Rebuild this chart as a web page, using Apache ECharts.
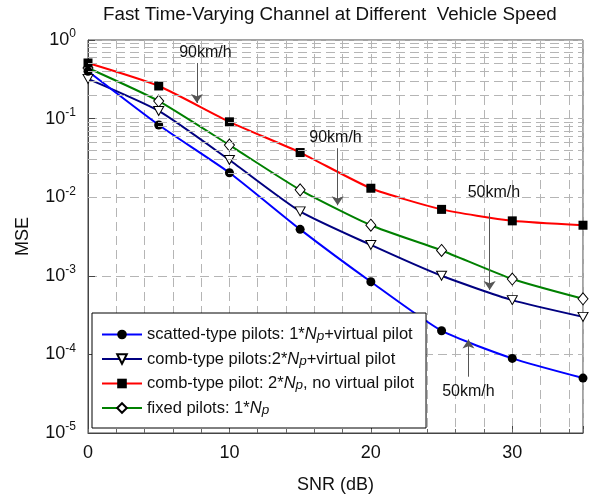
<!DOCTYPE html>
<html><head><meta charset="utf-8">
<script src="https://cdn.jsdelivr.net/npm/echarts@6/dist/echarts.min.js"></script>
<style>html,body{margin:0;padding:0;background:#fff}#c{width:597px;height:502px}</style>
</head><body><div id="c"></div>
<script>
// ---- data ----
const snr = [0, 5, 10, 15, 20, 25, 30, 35];
const scattedPilots = [0.40, 0.083, 0.0205, 0.0039, 0.00084, 0.0002, 0.000089, 0.00005];
const comb2NpVirtual = [0.32, 0.125, 0.0297, 0.0066, 0.00247, 0.001, 0.00049, 0.0003];
const comb2NpNoVirtual = [0.51, 0.26, 0.091, 0.037, 0.013, 0.007, 0.005, 0.0044];
const fixedPilots = [0.44, 0.167, 0.046, 0.0124, 0.0044, 0.0021, 0.00091, 0.00051];
const seriesNames = [
  'scatted-type pilots: 1*Np+virtual pilot',
  'comb-type pilots:2*Np+virtual pilot',
  'comb-type pilot: 2*Np, no virtual pilot',
  'fixed pilots: 1*Np'
];
const legendRich = {
  'scatted-type pilots: 1*Np+virtual pilot': ['scatted-type pilots: 1*', '+virtual pilot'],
  'comb-type pilots:2*Np+virtual pilot': ['comb-type pilots:2*', '+virtual pilot'],
  'comb-type pilot: 2*Np, no virtual pilot': ['comb-type pilot: 2*', ', no virtual pilot'],
  'fixed pilots: 1*Np': ['fixed pilots: 1*', '']
};
const annText = ['90km/h', '90km/h', '50km/h', '50km/h'];
const annTextAt = [[8.3, 0.70], [17.5, 0.058], [28.7, 0.0116], [26.9, 3.4e-5]];
const arrowFrom = [[7.7, 0.51], [17.65, 0.042], [28.4, 0.0063], [26.9, 5.2e-5]];
const arrowTo = [[7.7, 0.158], [17.65, 0.0079], [28.4, 0.00066], [26.9, 1.55e-4]];

// minor log grid positions (2..9 x 10^k)
const minorY = [];
for (let k = -5; k < 0; k++) for (let m = 2; m <= 9; m++) minorY.push(m * Math.pow(10, k));

const FONT = 'Liberation Sans, Arial, sans-serif';
const gridDash = { color: '#b5b5b5', type: [9, 5], width: 1 };

function pairs(ys) { return snr.map((x, i) => [x, ys[i]]); }

const chart = echarts.init(document.getElementById('c'), null, { renderer: 'canvas' });

const option = {
  animation: false,
  textStyle: { fontFamily: FONT },
  title: {
    text: 'Fast Time-Varying Channel at Different  Vehicle Speed',
    left: 103, top: 5, padding: 0,
    textStyle: { fontFamily: FONT, fontSize: 18.8, fontWeight: 'normal', color: '#111' }
  },
  grid: { left: 88, right: 14, top: 40, bottom: 69, show: true, borderColor: '#444', borderWidth: 1 },
  legend: {
    data: seriesNames,
    orient: 'vertical', left: 92, top: 313,
    backgroundColor: '#fff', borderColor: '#000', borderWidth: 1,
    padding: [13, 12, 11, 9],
    itemWidth: 40, itemHeight: 12, itemGap: 7,
    textStyle: {
      fontFamily: FONT, fontSize: 16.5, color: '#111',
      rich: {
        a: { fontFamily: FONT, fontSize: 16.5, color: '#111', lineHeight: 18 },
        n: { fontFamily: FONT, fontSize: 16.5, color: '#111', fontStyle: 'italic', lineHeight: 18 },
        s: { fontFamily: FONT, fontSize: 13.5, color: '#111', fontStyle: 'italic', verticalAlign: 'bottom', lineHeight: 13 }
      }
    },
    formatter: function (name) {
      const p = legendRich[name];
      return '{a|' + p[0] + '}{n|N}{s|p}' + (p[1] ? '{a|' + p[1] + '}' : '');
    }
  },
  xAxis: [{
    type: 'value', min: 0, max: 35, interval: 10,
    name: 'SNR (dB)', nameLocation: 'middle', nameGap: 43,
    nameTextStyle: { fontFamily: FONT, fontSize: 18, color: '#111' },
    axisLine: { lineStyle: { color: '#444' } },
    axisTick: { inside: true, length: 7, lineStyle: { color: '#444' } },
    axisLabel: { fontFamily: FONT, fontSize: 18, color: '#111', margin: 11,
      formatter: v => (v % 10 === 0 ? String(v) : '') },
    splitLine: { show: false }
  }, {
    type: 'value', min: 0, max: 35, interval: 2, position: 'bottom',
    axisLine: { show: false },
    axisTick: { inside: true, length: 4, lineStyle: { color: '#666' } },
    axisLabel: { show: false },
    splitLine: { show: true, lineStyle: gridDash }
  }],
  yAxis: {
    type: 'log', logBase: 10, min: 1e-5, max: 1,
    name: 'MSE', nameLocation: 'middle', nameGap: 56, nameRotate: 90,
    nameTextStyle: { fontFamily: FONT, fontSize: 18, color: '#111' },
    axisLine: { show: true, lineStyle: { color: '#444' } },
    axisTick: { inside: true, length: 7, lineStyle: { color: '#444' } },
    axisLabel: {
      margin: 12,
      formatter: v => '{b|10}{e|' + Math.round(Math.log10(v)) + '}',
      rich: {
        b: { fontFamily: FONT, fontSize: 18, color: '#111', lineHeight: 24 },
        e: { fontFamily: FONT, fontSize: 12, color: '#111', verticalAlign: 'top', lineHeight: 12 }
      }
    },
    splitLine: { show: true, lineStyle: gridDash }
  },
  series: [
    {
      name: 'grid', type: 'line', data: [], silent: true, z: 1,
      markLine: {
        silent: true, symbol: 'none', animation: false,
        label: { show: false },
        lineStyle: gridDash,
        data: minorY.map(v => ({ yAxis: v }))
      }
    },
    {
      name: 'annot', type: 'line', data: [], silent: true, z: 3,
      markLine: {
        silent: true, symbol: ['none', 'arrow'], symbolSize: 9, animation: false,
        label: { show: false },
        itemStyle: { color: '#555' },
        lineStyle: { color: '#555', type: 'solid', width: 1, opacity: 1 },
        data: arrowFrom.map((f, i) => [{ coord: f }, { coord: arrowTo[i] }])
      },
      markPoint: {
        silent: true, symbol: 'circle', symbolSize: 1, animation: false,
        itemStyle: { color: 'rgba(0,0,0,0)' },
        label: { show: true, position: 'inside', fontFamily: FONT, fontSize: 16, color: '#111',
          formatter: p => p.name },
        data: annTextAt.map((c, i) => ({ name: annText[i], coord: c }))
      }
    },
    {
      name: seriesNames[3], type: 'line', data: pairs(fixedPilots), z: 2,
      smooth: 0.2, symbol: 'diamond', symbolSize: [10, 12],
      lineStyle: { color: '#008000', width: 2 },
      itemStyle: { color: '#fff', borderColor: '#000', borderWidth: 1 }
    },
    {
      name: seriesNames[2], type: 'line', data: pairs(comb2NpNoVirtual), z: 2,
      smooth: 0.2, symbol: 'rect', symbolSize: 9,
      lineStyle: { color: '#ff0000', width: 2 },
      itemStyle: { color: '#000' }
    },
    {
      name: seriesNames[1], type: 'line', data: pairs(comb2NpVirtual), z: 2,
      smooth: 0.2, symbol: 'triangle', symbolRotate: 180, symbolSize: [10, 9],
      lineStyle: { color: '#000080', width: 2 },
      itemStyle: { color: '#fff', borderColor: '#000', borderWidth: 1 }
    },
    {
      name: seriesNames[0], type: 'line', data: pairs(scattedPilots), z: 2,
      smooth: 0.2, symbol: 'circle', symbolSize: 9,
      lineStyle: { color: '#0000ff', width: 2 },
      itemStyle: { color: '#000' }
    }
  ]
};
chart.setOption(option);
</script>
</body></html>
